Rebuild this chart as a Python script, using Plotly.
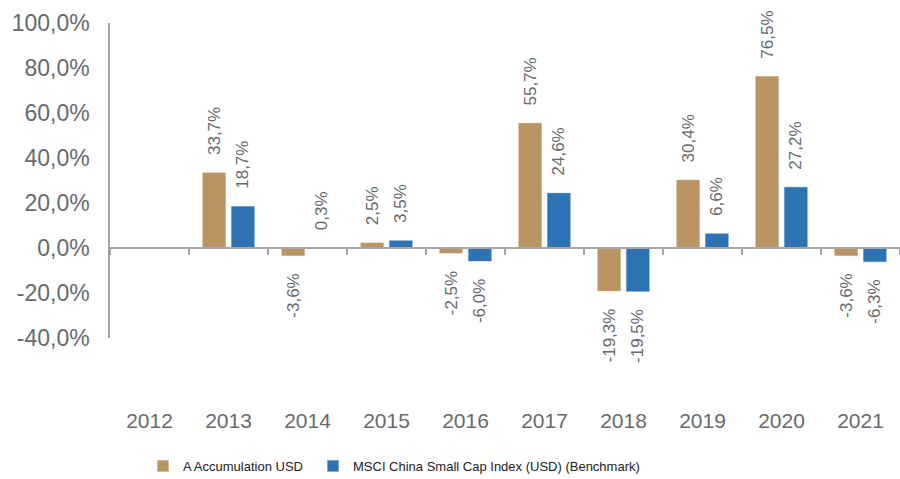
import plotly.graph_objects as go

years = ["2012", "2013", "2014", "2015", "2016", "2017", "2018", "2019", "2020", "2021"]
fund = [None, 33.7, -3.6, 2.5, -2.5, 55.7, -19.3, 30.4, 76.5, -3.6]
bench = [None, 18.7, 0.3, 3.5, -6.0, 24.6, -19.5, 6.6, 27.2, -6.3]
fund_name = "A Accumulation USD"
bench_name = "MSCI China Small Cap Index (USD) (Benchmark)"
y_ticks = [-40, -20, 0, 20, 40, 60, 80, 100]

GOLD = "#BA9462"
BLUE = "#2E74B5"
GREY = "#666a6e"
LINE = "#a6a6a6"
PAD = "\u00a0\u00a0\u00a0"


def fmt(v):
    return f"{v:.1f}%".replace(".", ",")


def label(v):
    if v is None:
        return None
    return PAD + fmt(v) if v >= 0 else fmt(v) + PAD


fig = go.Figure()
for name, vals, col, leg in [(fund_name, fund, GOLD, "legend"), (bench_name, bench, BLUE, "legend2")]:
    fig.add_trace(go.Bar(
        x=years, y=vals, name=name, legend=leg,
        marker=dict(color=col, line=dict(color="rgba(255,255,255,0.7)", width=1)),
        text=[label(v) for v in vals], textposition="outside", textangle=-90,
        constraintext="none", cliponaxis=False,
        textfont=dict(family="Arial, Liberation Sans, sans-serif", size=17, color=GREY),
        hoverinfo="skip",
    ))

# dummy trace for bottom category label axis
fig.add_trace(go.Scatter(x=years, y=[None] * len(years), xaxis="x2", yaxis="y",
                         showlegend=False, hoverinfo="skip", mode="markers"))

legend_font = dict(family="Arial, Liberation Sans, sans-serif", size=13, color="#222222")

fig.update_layout(
    width=900, height=479,
    margin=dict(l=110, r=0, t=23, b=141, autoexpand=False),
    paper_bgcolor="white", plot_bgcolor="white",
    barmode="group", bargap=0.27, bargroupgap=0.17,
    font=dict(family="Arial, Liberation Sans, sans-serif", color=GREY),
    xaxis=dict(
        type="category", categoryorder="array", categoryarray=years,
        range=[-0.5, 9.5], anchor="free", position=40 / 140,
        showline=True, linecolor=LINE, linewidth=1.5,
        ticks="outside", ticklen=6, tickcolor=LINE, tickwidth=1.5, tickson="boundaries",
        showticklabels=False, showgrid=False, zeroline=False, automargin=False,
    ),
    xaxis2=dict(
        type="category", categoryorder="array", categoryarray=years,
        range=[-0.5, 9.5], overlaying="x", anchor="y", side="bottom",
        showline=False, ticks="", showgrid=False, zeroline=False, automargin=False,
        tickfont=dict(size=21, color=GREY), ticklabelstandoff=68,
    ),
    yaxis=dict(
        range=[-40, 100], tickvals=y_ticks, ticktext=[fmt(v) for v in y_ticks],
        showline=True, linecolor=LINE, linewidth=1.5, ticks="",
        showgrid=False, zeroline=False, automargin=False,
        tickfont=dict(size=23, color=GREY), ticklabelstandoff=14,
    ),
    legend=dict(
        orientation="h", xref="container", yref="container",
        x=143 / 900, y=1 - 466 / 479, yanchor="middle", xanchor="left",
        font=legend_font, itemwidth=30,
    ),
    legend2=dict(
        orientation="h", xref="container", yref="container",
        x=313 / 900, y=1 - 466 / 479, yanchor="middle", xanchor="left",
        font=legend_font, itemwidth=30,
    ),
    showlegend=True,
)

fig.write_html("out.html", post_script="document.body.style.margin='0';",
               config={"displayModeBar": False})
